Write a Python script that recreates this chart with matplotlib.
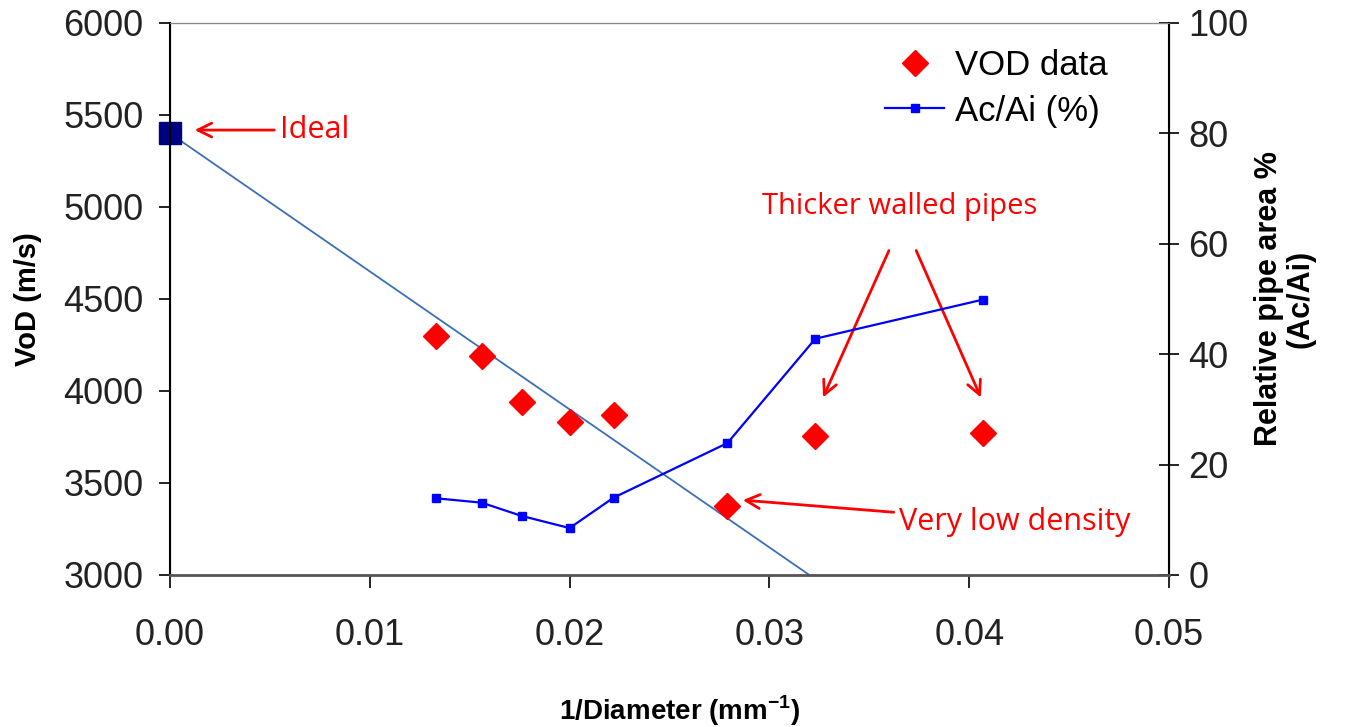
import matplotlib
matplotlib.use("Agg")
import matplotlib.pyplot as plt

plt.rcParams['font.family'] = ['Liberation Sans', 'DejaVu Sans']
plt.rcParams['mathtext.fontset'] = 'custom'
plt.rcParams['mathtext.rm'] = 'Liberation Sans'
plt.rcParams['mathtext.bf'] = 'Liberation Sans:bold'

# 1/diameter (mm^-1)
inv_diameter = [0.0133, 0.0156, 0.0176, 0.0200, 0.0222, 0.0279, 0.0323, 0.0407]
vod = [4300, 4190, 3940, 3830, 3870, 3375, 3755, 3770]
area_ratio = [13.9, 13.1, 10.7, 8.5, 14.0, 23.9, 42.8, 49.9]

ideal_x = [0.0]
ideal_vod = [5400]
trend_x = [0.0, 0.032]
trend_vod = [5400, 3000]

red = '#ff0000'

fig = plt.figure(figsize=(13.51, 7.27), dpi=100)
ax = fig.add_axes([0.1258, 0.2091, 0.7395, 0.7593])
ax2 = ax.twinx()

ax.plot(trend_x, trend_vod, color='#3b6fb5', lw=1.3, zorder=2)
ax.plot(ideal_x, ideal_vod, 's', color='#000080', ms=16, clip_on=False, zorder=4)
vod_pts, = ax.plot(inv_diameter, vod, 'D', color=red, ms=13, ls='none', zorder=3,
                   label='VOD data')
ratio_line, = ax2.plot(inv_diameter, area_ratio, '-s', color='#0000ff', lw=1.6, ms=6,
                       label='Ac/Ai (%)')

ax.set_xlim(0, 0.05)
ax.set_ylim(3000, 6000)
ax2.set_ylim(0, 100)
ax.set_xticks([0, 0.01, 0.02, 0.03, 0.04, 0.05])
ax.set_xticklabels(['0.00', '0.01', '0.02', '0.03', '0.04', '0.05'])
ax.set_yticks(range(3000, 6001, 500))
ax2.set_yticks(range(0, 101, 20))

ax.tick_params(axis='y', direction='out', length=8, width=1.2, labelsize=26, pad=11,
               colors='black', labelcolor='#222222')
ax.tick_params(axis='x', direction='out', length=9, width=1.2, labelsize=26, pad=22,
               labelcolor='#222222')
ax2.tick_params(axis='y', direction='inout', length=14, width=1.2, labelsize=26, pad=7,
                labelcolor='#222222')

for s in ['left', 'right']:
    ax2.spines[s].set_color('black')
    ax2.spines[s].set_linewidth(1.5)
ax2.spines['top'].set_color('#888888')
ax2.spines['bottom'].set_color('#555555')
ax2.spines['bottom'].set_linewidth(2)

ax.set_xlabel('1/Diameter (mm$^{\\mathbf{-1}}$)', fontsize=20, fontweight='bold')
ax.xaxis.set_label_coords(0.51, -0.215)
ax.set_ylabel('VoD (m/s)', fontsize=21, fontweight='bold')
ax.yaxis.set_label_coords(-0.128, 0.5)
ax2.set_ylabel('Relative pipe area %\n(Ac/Ai)', fontsize=22, fontweight='bold',
               linespacing=1.05)
ax2.yaxis.set_label_coords(1.085, 0.5)

leg = ax2.legend([vod_pts, ratio_line], ['VOD data', 'Ac/Ai (%)'], loc='upper left',
                 bbox_to_anchor=(0.716, 0.952), frameon=False, fontsize=25,
                 handlelength=1.7, handletextpad=0.3, labelspacing=0.35,
                 borderpad=0, borderaxespad=0)

ann = dict(fontsize=22, color=red, family=['Open Sans', 'DejaVu Sans'])
arrow = dict(arrowstyle='->', color=red, lw=2, mutation_scale=25)

ax.annotate('Ideal', xy=(0.0011, 5418), xytext=(0.0055, 5418), va='center', ha='left',
            arrowprops=arrow, **ann)
ax.text(0.0365, 5000, 'Thicker walled pipes', ha='center', va='center',
        **dict(ann, fontsize=21))
ax.annotate('', xy=(0.03263, 3951), xytext=(0.03604, 4777), arrowprops=arrow)
ax.annotate('', xy=(0.04064, 3951), xytext=(0.03729, 4777), arrowprops=arrow)
ax.annotate('Very low density', xy=(0.02853, 3408), xytext=(0.0365, 3288),
            va='center', ha='left', arrowprops=arrow, **ann)

fig.savefig('out.png', dpi=100)
